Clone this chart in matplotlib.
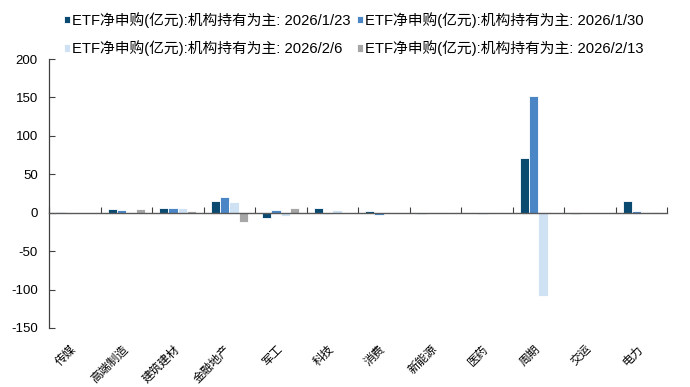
import matplotlib
matplotlib.use("Agg")
import matplotlib.pyplot as plt
import numpy as np

plt.rcParams['font.family'] = ['Liberation Sans', 'Noto Sans CJK SC', 'DejaVu Sans']
plt.rcParams['axes.unicode_minus'] = False

categories = ["传媒", "高端制造", "建筑建材", "金融地产", "军工", "科技", "消费",
              "新能源", "医药", "周期", "交运", "电力"]
series_names = ["ETF净申购(亿元):机构持有为主: 2026/1/23",
                "ETF净申购(亿元):机构持有为主: 2026/1/30",
                "ETF净申购(亿元):机构持有为主: 2026/2/6",
                "ETF净申购(亿元):机构持有为主: 2026/2/13"]
s_0123 = [0.3, 4.5, 6.0, 15.8, -6.5, 5.7, 2.0, -1.5, -1.0, 71.5, -1.5, 15.0]
s_0130 = [0.2, 3.2, 6.0, 21.0, 3.0, -2.0, -2.5, -1.0, -1.2, 152.0, -1.0, 2.2]
s_0206 = [0.2, 0.5, 5.5, 13.5, -3.8, 3.3, 1.5, 0.8, 1.0, -108.0, 0.5, 1.2]
s_0213 = [0.1, 4.4, 2.2, -12.0, 6.0, -1.0, -0.8, -0.5, -0.5, -1.0, -0.5, 0.8]
series = [s_0123, s_0130, s_0206, s_0213]
colors = ["#0B4A70", "#4A86C6", "#CFE2F4", "#A6A6A6"]
yticks = [-150, -100, -50, 0, 50, 100, 150, 200]

fig = plt.figure(figsize=(6.9, 3.87), dpi=100)
ax = fig.add_axes([49/690, 1-328/387, (667-49)/690, (328-59)/387])

n = len(series)
x = np.arange(len(categories))
group_w = 0.725
bw = group_w / n
handles = []
for i, (vals, name, c) in enumerate(zip(series, series_names, colors)):
    h = ax.bar(x - group_w/2 + bw*(i+0.5), vals, width=bw, color=c,
               edgecolor='white', linewidth=0.6, label=name, zorder=2)
    handles.append(h)

ax.set_xlim(-0.5, len(categories)-0.5)
ax.set_ylim(-150, 200)
ax.set_yticks(yticks)
ax.tick_params(axis='y', direction='in', length=4, width=0.8, labelsize=9.5,
               pad=8, colors='#404040', labelcolor='black')

for s in ['top', 'right']:
    ax.spines[s].set_visible(False)
ax.spines['left'].set_color('#404040')
ax.spines['left'].set_linewidth(0.9)
ax.spines['bottom'].set_position(('data', 0))
ax.spines['bottom'].set_color('#595959')
ax.spines['bottom'].set_linewidth(1.0)
ax.spines['bottom'].set_zorder(3)
ax.set_xticks(np.arange(len(categories)+1) - 0.5)
ax.set_xticklabels([])
ax.tick_params(axis='x', direction='in', length=4, width=0.8, colors='#404040')

sec = ax.secondary_xaxis('bottom')
sec.set_xticks(x)
sec.set_xticklabels(categories, rotation=45, ha='right', va='center',
                    rotation_mode='anchor', fontsize=8.5)
sec.tick_params(axis='x', length=0, pad=14)
sec.spines['bottom'].set_visible(False)

order = [0, 2, 1, 3]
leg = fig.legend([handles[i] for i in order], [series_names[i] for i in order],
                 loc='upper left', bbox_to_anchor=(64/690, 1-12/387), ncol=2,
                 frameon=False, fontsize=10.65, handlelength=0.42, handleheight=0.42,
                 handletextpad=0.1, columnspacing=0.45, labelspacing=0.85,
                 borderaxespad=0, borderpad=0)

fig.savefig("out.png", dpi=100)
